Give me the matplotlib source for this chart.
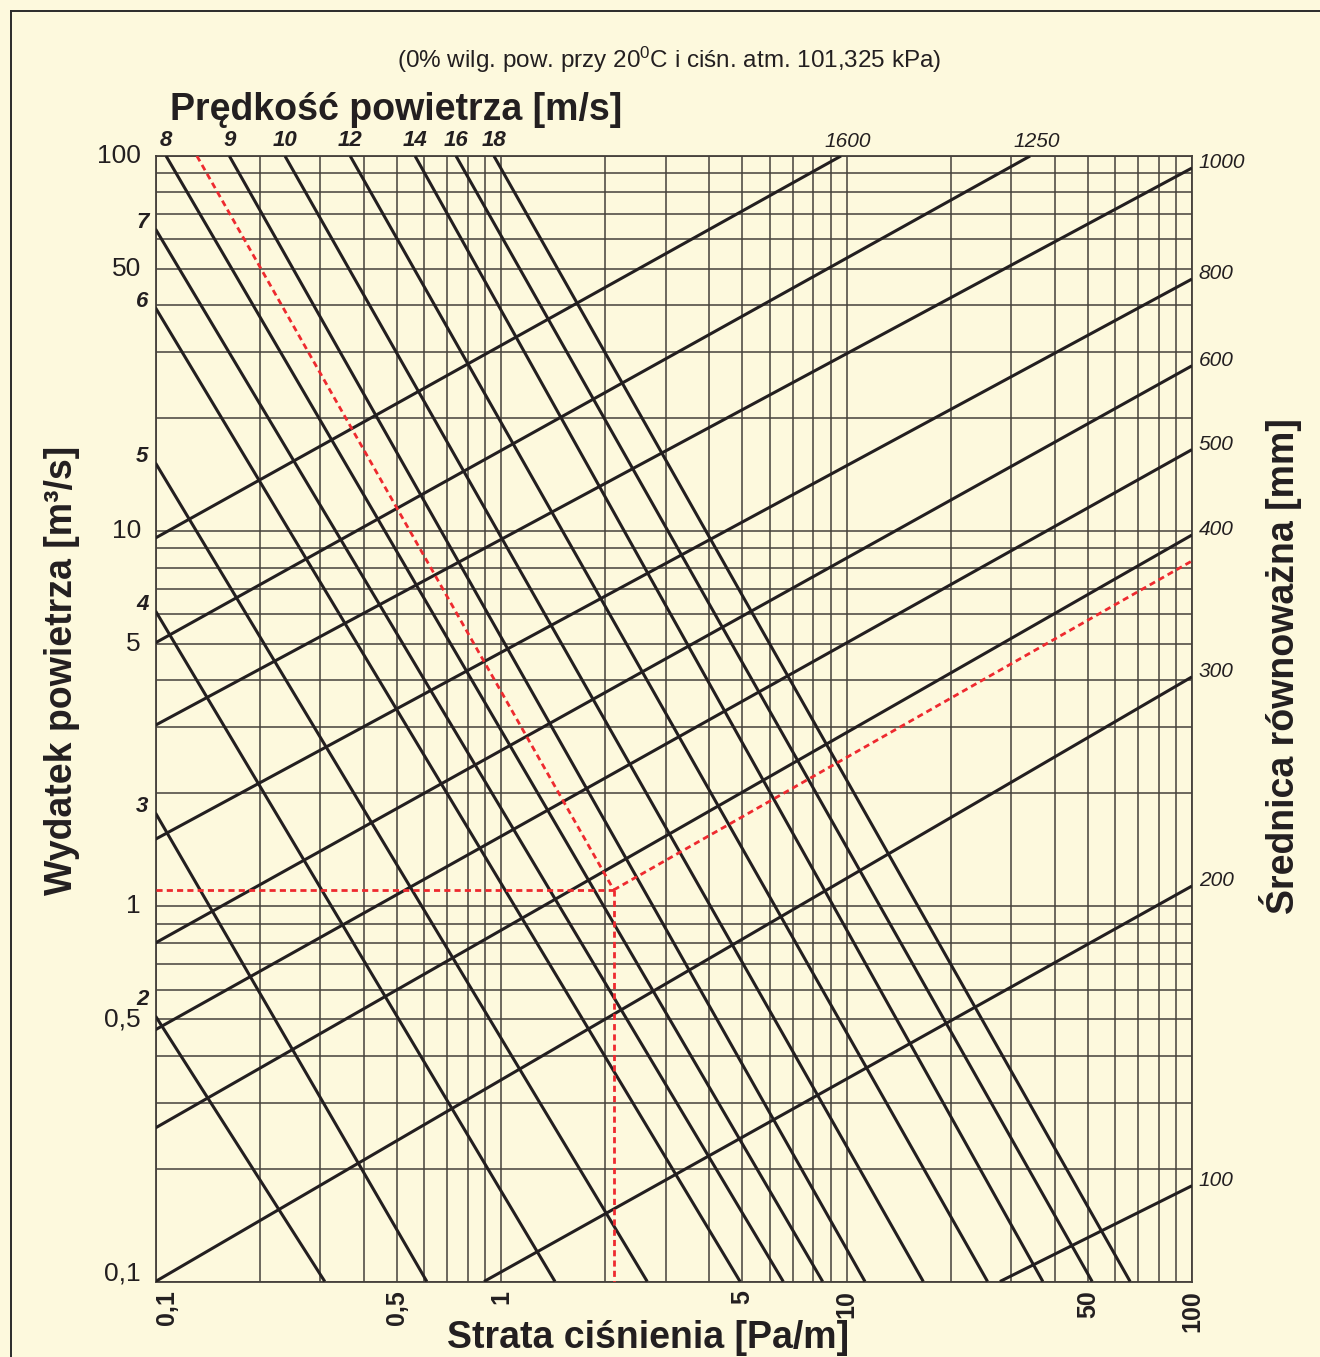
import matplotlib.pyplot as plt
from matplotlib.lines import Line2D
from matplotlib import font_manager
from matplotlib.ticker import NullLocator

plt.rcParams['font.family'] = ['Liberation Sans', 'DejaVu Sans']
plt.rcParams['mathtext.fontset'] = 'custom'
plt.rcParams['mathtext.rm'] = 'Liberation Sans'
plt.rcParams['mathtext.it'] = 'Liberation Sans:italic'
plt.rcParams['mathtext.bf'] = 'Liberation Sans:bold'

BG = '#fdf9dd'
INK = '#231f20'
GRID = '#45403b'
RED = '#ee2a2f'

# velocity lines [m/s]: end points (R [Pa/m], Q [m3/s])
vel_labels = [2, 3, 4, 5, 6, 7, 8, 9, 10, 12, 14, 16, 18]
vel_r0 = [0.1, 0.1, 0.1, 0.1, 0.1, 0.1, 0.1073, 0.1636, 0.237, 0.366, 0.564, 0.741, 0.954]
vel_q0 = [0.510, 1.774, 6.13, 15.2, 39.4, 63.9, 100, 100, 100, 100, 100, 100, 100]
vel_r1 = [0.309, 0.610, 1.433, 2.65, 4.92, 6.56, 8.53, 11.31, 16.68, 25.6, 37.0, 51.4, 66.2]
vel_q1 = [0.1] * 13

# equivalent diameter lines [mm]
dia_labels = [1600, 1250, 1000, 800, 600, 500, 400, 300, 200, 100]
dia_r0 = [0.1, 0.1, 0.1, 0.1, 0.1, 0.1, 0.1, 0.1, 0.893, 27.8]
dia_q0 = [9.59, 5.04, 3.04, 1.51, 0.799, 0.469, 0.2567, 0.1, 0.1, 0.1]
dia_r1 = [9.64, 34.0, 100, 100, 100, 100, 100, 100, 100, 100]
dia_q1 = [100, 100, 92.9, 47.0, 27.6, 16.5, 9.77, 4.09, 1.133, 0.180]

# worked example (red dashed)
ex_r = 2.12
ex_q = 1.106
ex_vel_r0 = 0.1318   # where the example velocity line leaves the top edge
ex_dia_q1 = 8.33     # where the example diameter line meets the right edge

tick_vals = [0.1, 0.5, 1, 5, 10, 50, 100]
tick_text = ['0,1', '0,5', '1', '5', '10', '50', '100']
grid_mult = [1, 2, 3, 4, 5, 6, 7, 8, 9]
grid_decades = [0.1, 1, 10]
grid_vals = [m * d for d in grid_decades for m in grid_mult] + [100]

names = {f.name for f in font_manager.fontManager.ttflist}
if 'Liberation Sans Narrow' in names:
    tick_font, tick_size = 'Liberation Sans Narrow', 22
else:
    tick_font, tick_size = 'Liberation Sans', 19

fig = plt.figure(figsize=(13.2, 13.57), dpi=100, facecolor=BG)
ax = fig.add_axes([155.5 / 1320, 1 - 1281.5 / 1357, 1036.5 / 1320, 1125.5 / 1357])
ax.set_facecolor(BG)
ax.set_xscale('log')
ax.set_yscale('log')
ax.set_xlim(0.1, 100)
ax.set_ylim(0.1, 100)
for axis in (ax.xaxis, ax.yaxis):
    axis.set_major_locator(NullLocator())
    axis.set_minor_locator(NullLocator())
for sp in ax.spines.values():
    sp.set_color(GRID)
    sp.set_linewidth(1.3)

for v in grid_vals:
    ax.axvline(v, color=GRID, lw=1.1, zorder=1)
    ax.axhline(v, color=GRID, lw=1.1, zorder=1)

# velocity lines
for v, r0, q0, r1, q1 in zip(vel_labels, vel_r0, vel_q0, vel_r1, vel_q1):
    ax.plot([r0, r1], [q0, q1], color=INK, lw=2.2, zorder=3, solid_capstyle='butt')
    if q0 >= 100:
        ax.annotate(str(v), xy=(r0, q0), xytext=(0, 3.5), textcoords='offset points',
                    ha='center', va='bottom', fontsize=16, fontweight='bold',
                    style='italic', color=INK, annotation_clip=False)
    else:
        dy = 12 if v == 2 else 4.5
        ax.annotate(str(v), xy=(r0, q0), xytext=(-5, dy), textcoords='offset points',
                    ha='right', va='center', fontsize=16, fontweight='bold',
                    style='italic', color=INK, annotation_clip=False)

# diameter lines
for d, r0, q0, r1, q1 in zip(dia_labels, dia_r0, dia_q0, dia_r1, dia_q1):
    ax.plot([r0, r1], [q0, q1], color=INK, lw=2.2, zorder=3, solid_capstyle='butt')
    if q1 >= 100:
        ax.annotate(str(d), xy=(r1, q1), xytext=(5, 3.5), textcoords='offset points',
                    ha='center', va='bottom', fontsize=15, style='italic',
                    color=INK, annotation_clip=False)
    else:
        ax.annotate(str(d), xy=(r1, q1), xytext=(5, 4), textcoords='offset points',
                    ha='left', va='center', fontsize=15, style='italic',
                    color=INK, annotation_clip=False)

# worked example
red = dict(color=RED, lw=2, ls=(0, (2.2, 1.5)), zorder=4)
ax.plot([ex_vel_r0, ex_r], [100, ex_q], **red)
ax.plot([0.1, ex_r], [ex_q, ex_q], **red)
ax.plot([ex_r, ex_r], [ex_q, 0.1], **red)
ax.plot([ex_r, 100], [ex_q, ex_dia_q1], **red)

# tick labels
for v, t in zip(tick_vals, tick_text):
    dx = 8 if v == 0.1 else 0
    ax.annotate(t, xy=(v, 0), xycoords=('data', 'axes fraction'), xytext=(dx, -6),
                textcoords='offset points', rotation=90, ha='center', va='top',
                fontsize=18, fontweight='bold', color=INK, annotation_clip=False)
    dy = 6 if v == 0.1 else 0
    ax.annotate(t, xy=(0, v), xycoords=('axes fraction', 'data'), xytext=(-10.5, dy),
                textcoords='offset points', ha='right', va='center',
                fontsize=tick_size, family=tick_font, color=INK, annotation_clip=False)

# titles
fig.text(669 / 1320, 1 - 68 / 1357,
         '(0% wilg. pow. przy 20$^{0}$C i ciśn. atm. 101,325 kPa)',
         ha='center', va='baseline', fontsize=17.5, color=INK)
fig.text(396 / 1320, 1 - 120 / 1357, 'Prędkość powietrza [m/s]',
         ha='center', va='baseline', fontsize=27, fontweight='bold', color=INK)
fig.text(62 / 1320, 1 - 670 / 1357, 'Wydatek powietrza [m³/s]', rotation=90,
         ha='center', va='center', fontsize=27, fontweight='bold', color=INK)
fig.text(1281 / 1320, 1 - 666 / 1357, 'Średnica równoważna [mm]', rotation=90,
         ha='center', va='center', fontsize=27, fontweight='bold', color=INK)
fig.text(648 / 1320, 1 - 1320 / 1357, 'Strata ciśnienia [Pa/m]',
         ha='center', va='top', fontsize=27, fontweight='bold', color=INK)

# outer frame
fx, fy = 11 / 1320, 1 - 11 / 1357
fig.add_artist(Line2D([fx, fx], [0, fy], transform=fig.transFigure, color='#2b2b2b', lw=1.4))
fig.add_artist(Line2D([fx, 1], [fy, fy], transform=fig.transFigure, color='#2b2b2b', lw=1.4))

fig.savefig('out.png', dpi=100, facecolor=BG)
